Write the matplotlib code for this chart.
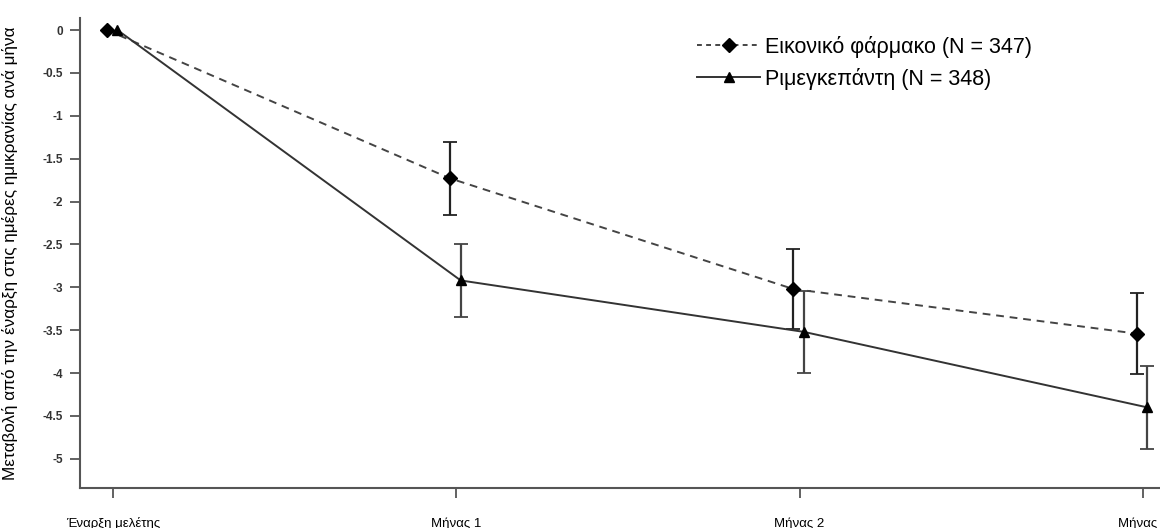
import matplotlib
matplotlib.use("Agg")
import matplotlib.pyplot as plt
from matplotlib.lines import Line2D

plt.rcParams['font.family'] = ['Liberation Sans', 'DejaVu Sans']

timepoints = ["Έναρξη μελέτης", "Μήνας 1", "Μήνας 2", "Μήνας 3"]
placebo_mean = [0.0, -1.73, -3.02, -3.54]
placebo_err = [0.0, 0.43, 0.47, 0.47]
drug_mean = [0.0, -2.92, -3.52, -4.40]
drug_err = [0.0, 0.43, 0.48, 0.48]
placebo_label = "Εικονικό φάρμακο (N = 347)"
drug_label = "Ριμεγκεπάντη (N = 348)"
ylabel = "Μεταβολή από την έναρξη στις ημέρες ημικρανίας ανά μήνα"
yticks = [0, -0.5, -1, -1.5, -2, -2.5, -3, -3.5, -4, -4.5, -5]

fig = plt.figure(figsize=(11.6, 5.28), dpi=100)
ax = fig.add_axes([80/1160, 1-488/528, 1-80/1160, (488-18)/528])

x = list(range(len(timepoints)))
xp = [v - 0.018 for v in x]
xd = [v + 0.013 for v in x]

lc = '#333333'
ax.errorbar(xp[1:], placebo_mean[1:], yerr=placebo_err[1:], fmt='none',
            ecolor='#222222', elinewidth=1.6, capsize=5, capthick=1.3, zorder=2)
ax.errorbar(xd[1:], drug_mean[1:], yerr=drug_err[1:], fmt='none',
            ecolor='#444444', elinewidth=1.6, capsize=5, capthick=1.3, zorder=2)
ax.plot(xp, placebo_mean, linestyle=(0, (4, 3)), color='#444444', lw=1.4,
        marker='D', markersize=7, markerfacecolor='black', markeredgecolor='black', zorder=3)
ax.plot(xd, drug_mean, linestyle='-', color=lc, lw=1.4,
        marker='^', markersize=7, markerfacecolor='black', markeredgecolor='black', zorder=3)

ax.set_xlim(-0.096, 3.05)
ax.set_ylim(-5.34, 0.14)
ax.set_yticks(yticks)
ax.set_yticklabels([('%g' % t) for t in yticks], fontsize=8.5, fontweight='bold',
                   color='#333333')
ax.set_xticks(x)
ax.set_xticklabels(timepoints, fontsize=9.5,
                   family=['Liberation Sans Narrow', 'Liberation Sans', 'DejaVu Sans'])
for s in ['top', 'right']:
    ax.spines[s].set_visible(False)
for s in ['left', 'bottom']:
    ax.spines[s].set_color('#555555')
    ax.spines[s].set_linewidth(1.5)
ax.tick_params(axis='both', direction='out', length=7, width=1.3, color='#555555')
ax.tick_params(axis='y', pad=5)
ax.tick_params(axis='x', pad=14)
ax.set_ylabel(ylabel, fontsize=12.3)
ax.yaxis.set_label_coords(-0.057, 0.5)

handles = [
    Line2D([], [], linestyle=(0, (2.5, 2.2)), color='#444444', lw=1.4, marker='D',
           markersize=7, markerfacecolor='black', markeredgecolor='black'),
    Line2D([], [], linestyle='-', color=lc, lw=1.4, marker='^',
           markersize=7, markerfacecolor='black', markeredgecolor='black'),
]
ax.legend(handles, [placebo_label, drug_label], loc='upper left',
          bbox_to_anchor=(598/1080, 1.003), frameon=False, fontsize=15.5,
          handlelength=2.9, handletextpad=0.25, labelspacing=0.45)

fig.savefig("out.png", dpi=100)
